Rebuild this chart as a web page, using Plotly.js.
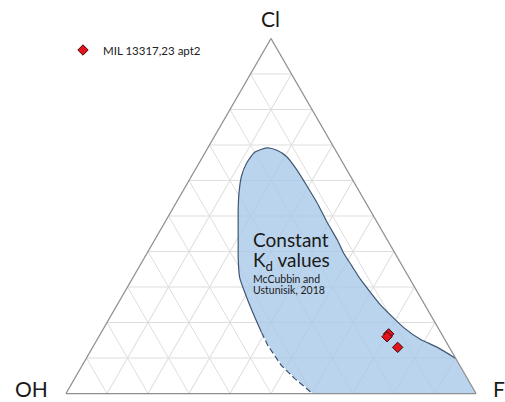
<!DOCTYPE html>
<html>
<head>
<meta charset="utf-8">
<script src="https://cdn.plot.ly/plotly-3.0.1.min.js"></script>
<style>
  html, body { margin: 0; padding: 0; background: #ffffff; }
  #chart { width: 505px; height: 402px; }
</style>
</head>
<body>
<div id="chart"></div>
<script>
// Constant Kd field (McCubbin and Ustunisik, 2018), outline in ternary fractions
const region_cl = [0.099, 0.130, 0.152, 0.185, 0.221, 0.249, 0.285, 0.322, 0.359, 0.396, 0.433, 0.483, 0.538, 0.584, 0.630, 0.667, 0.685, 0.692, 0.680, 0.648, 0.612, 0.566, 0.520, 0.428, 0.382, 0.327, 0.271, 0.216, 0.172, 0.134, 0.079, 0.042, 0.010, 0.000, 0.000];
const region_oh = [0.000, 0.029, 0.059, 0.083, 0.098, 0.108, 0.115, 0.121, 0.123, 0.125, 0.122, 0.122, 0.119, 0.120, 0.122, 0.128, 0.143, 0.164, 0.199, 0.236, 0.266, 0.295, 0.320, 0.366, 0.389, 0.413, 0.424, 0.432, 0.437, 0.440, 0.435, 0.421, 0.404, 0.400, 0.000];
const region_f  = [0.901, 0.841, 0.789, 0.732, 0.681, 0.643, 0.600, 0.557, 0.518, 0.479, 0.445, 0.395, 0.343, 0.296, 0.248, 0.205, 0.172, 0.144, 0.121, 0.116, 0.122, 0.139, 0.160, 0.206, 0.229, 0.260, 0.305, 0.352, 0.391, 0.426, 0.486, 0.537, 0.586, 0.600, 1.000];
// index ranges of the outline: solid part, then dashed part
const solidRange = [0, 28];
const dashedRange = [28, 33];

// Apatite analyses
const sampleName = "MIL 13317,23 apt2";
const sample_cl = [0.168, 0.160, 0.130];
const sample_oh = [0.129, 0.137, 0.126];
const sample_f  = [0.703, 0.703, 0.744];

// vertex labels
const vertexLabels = { a: "Cl", b: "OH", c: "F" };

function sl(arr, r) { return arr.slice(r[0], r[1] + 1); }

const FONT = "Lato, 'Open Sans', sans-serif";

const traces = [
  {
    type: "scatterternary", mode: "lines",
    a: region_cl, b: region_oh, c: region_f,
    fill: "toself", fillcolor: "rgba(168,200,232,0.78)",
    line: { width: 0, color: "rgba(0,0,0,0)" },
    hoverinfo: "skip", showlegend: false
  },
  {
    type: "scatterternary", mode: "lines",
    a: sl(region_cl, solidRange), b: sl(region_oh, solidRange), c: sl(region_f, solidRange),
    line: { width: 1.2, color: "#3f5673", shape: "spline", smoothing: 0.6 },
    hoverinfo: "skip", showlegend: false
  },
  {
    type: "scatterternary", mode: "lines",
    a: sl(region_cl, dashedRange), b: sl(region_oh, dashedRange), c: sl(region_f, dashedRange),
    line: { width: 1.4, color: "#ffffff" },
    hoverinfo: "skip", showlegend: false
  },
  {
    type: "scatterternary", mode: "lines",
    a: sl(region_cl, dashedRange), b: sl(region_oh, dashedRange), c: sl(region_f, dashedRange),
    line: { width: 1.3, color: "#3f5673", dash: "6px,3px" },
    hoverinfo: "skip", showlegend: false
  },
  {
    type: "scatterternary", mode: "markers", name: sampleName,
    a: sample_cl, b: sample_oh, c: sample_f,
    marker: { symbol: "diamond", size: 8, color: "#e3141b", line: { color: "#3a0c0c", width: 1 } },
    showlegend: true
  }
];

const axisCommon = {
  title: { text: "" },
  showticklabels: false,
  ticks: "",
  tick0: 0,
  dtick: 0.1,
  showgrid: true,
  gridcolor: "#dedede",
  gridwidth: 1,
  showline: true,
  linecolor: "#8f8f8f",
  linewidth: 1.3,
  min: 0
};

// plot area: l=66, w=410, t=38, h=356
const L = 66, W = 410, T = 38, H = 356;
function px(x) { return (x - L) / W; }
function py(y) { return (T + H - y) / H; }

const textColor = "#1a1a1a";

const layout = {
  width: 505, height: 402,
  margin: { l: L, r: 505 - L - W, t: T, b: 402 - T - H, pad: 0 },
  paper_bgcolor: "#ffffff",
  font: { family: FONT, color: textColor },
  showlegend: true,
  legend: {
    x: px(63), y: py(50), xanchor: "left", yanchor: "middle",
    font: { family: FONT, size: 11.5, color: "#222222" },
    bgcolor: "rgba(0,0,0,0)", borderwidth: 0
  },
  ternary: {
    sum: 1,
    bgcolor: "#ffffff",
    domain: { x: [0, 1], y: [0, 1] },
    aaxis: Object.assign({}, axisCommon),
    baxis: Object.assign({}, axisCommon),
    caxis: Object.assign({}, axisCommon)
  },
  annotations: [
    { text: vertexLabels.a, xref: "paper", yref: "paper", x: px(270.5), y: py(19), xanchor: "center", yanchor: "middle", showarrow: false, font: { size: 21, family: FONT, color: textColor } },
    { text: vertexLabels.b, xref: "paper", yref: "paper", x: px(31.5), y: py(388), xanchor: "center", yanchor: "middle", showarrow: false, font: { size: 21, family: FONT, color: textColor } },
    { text: vertexLabels.c, xref: "paper", yref: "paper", x: px(499), y: py(388), xanchor: "center", yanchor: "middle", showarrow: false, font: { size: 21, family: FONT, color: textColor } },
    { text: "Constant", xref: "paper", yref: "paper", x: px(251), y: py(240), xanchor: "left", yanchor: "middle", showarrow: false, font: { size: 19, family: FONT, color: textColor } },
    { text: "K<sub>d</sub> values", xref: "paper", yref: "paper", x: px(251), y: py(261), xanchor: "left", yanchor: "middle", showarrow: false, font: { size: 19, family: FONT, color: textColor } },
    { text: "McCubbin and", xref: "paper", yref: "paper", x: px(251), y: py(279), xanchor: "left", yanchor: "middle", showarrow: false, font: { size: 10.5, family: FONT, color: textColor } },
    { text: "Ustunisik, 2018", xref: "paper", yref: "paper", x: px(251), y: py(290), xanchor: "left", yanchor: "middle", showarrow: false, font: { size: 10.5, family: FONT, color: textColor } }
  ]
};

Plotly.newPlot("chart", traces, layout, { displayModeBar: false, staticPlot: true });
</script>
</body>
</html>
